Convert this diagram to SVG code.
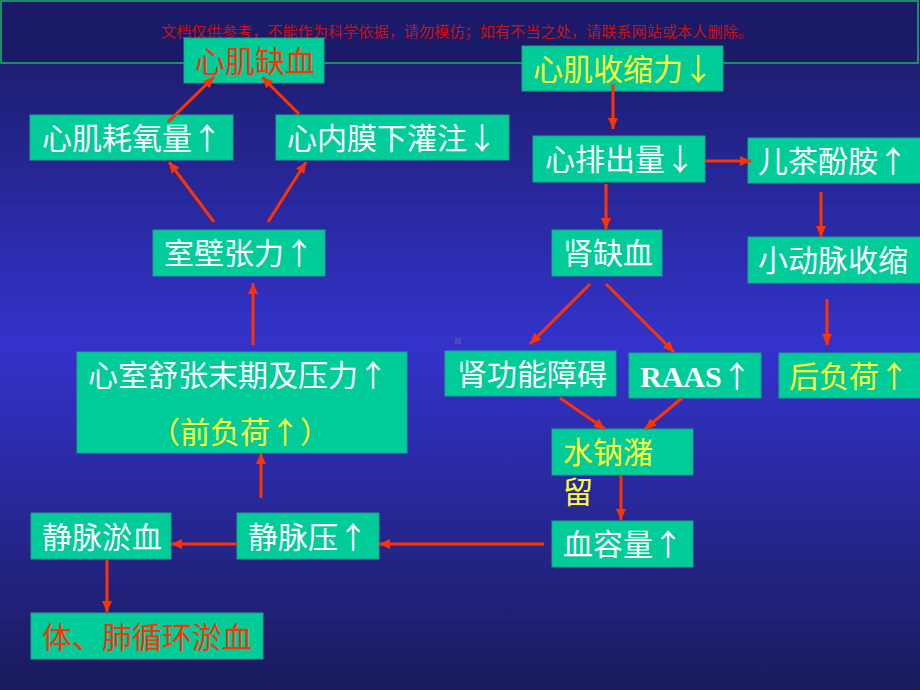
<svg xmlns="http://www.w3.org/2000/svg" width="920" height="690" viewBox="0 0 920 690">
<defs>
<linearGradient id="bg" x1="0" y1="0" x2="0" y2="1">
<stop offset="0" stop-color="#19195e"/>
<stop offset="0.5" stop-color="#3333cc"/>
<stop offset="1" stop-color="#1a1a5c"/>
</linearGradient>
<marker id="ah" markerUnits="userSpaceOnUse" markerWidth="12" markerHeight="10" refX="11" refY="5" orient="auto">
<path d="M0,0 L11,5 L0,10 Z" fill="#ff3300"/>
</marker>
<style>
.box{fill:#00cc99;stroke:#23a08c;stroke-width:1}
.t{font-family:"Noto Sans CJK SC","Noto Sans",sans-serif;font-size:30px;fill:#ffffff}
.r{fill:#ff3300}
.y{fill:#ffff33}
.c{stroke:#ff3300;stroke-width:3;fill:none;marker-end:url(#ah)}
</style>
</defs>
<rect x="0" y="0" width="920" height="690" fill="url(#bg)"/>
<g id="banner">
<rect x="1" y="1" width="917" height="62" fill="#1a1a68" stroke="#1b8c6c" stroke-width="2"/>
<text x="457" y="37" text-anchor="middle" font-family="Noto Sans CJK SC, sans-serif" font-size="15" fill="#cc1111" textLength="592" lengthAdjust="spacingAndGlyphs">文档仅供参考，不能作为科学依据，请勿模仿；如有不当之处，请联系网站或本人删除。</text>
</g>
<rect x="455" y="338" width="6" height="6" fill="#4a4ab0"/>
<g id="n1"><rect class="box" x="184" y="38" width="140" height="45"/><text class="t r" x="195" y="72">心肌缺血</text></g>
<g id="n2"><rect class="box" x="30" y="115" width="203" height="45"/><text class="t" x="42" y="149">心肌耗氧量↑</text></g>
<g id="n3"><rect class="box" x="276" y="115" width="233" height="45"/><text class="t" x="287" y="149">心内膜下灌注↓</text></g>
<g id="n4"><rect class="box" x="153" y="230" width="172" height="46"/><text class="t" x="164" y="264">室壁张力↑</text></g>
<g id="n5"><rect class="box" x="77" y="352" width="330" height="101"/><text class="t" x="88" y="386">心室舒张末期及压力↑</text><text class="t y" x="150" y="443">（前负荷↑）</text></g>
<g id="n6"><rect class="box" x="31" y="513" width="140" height="46"/><text class="t" x="42" y="548">静脉淤血</text></g>
<g id="n7"><rect class="box" x="237" y="513" width="142" height="46"/><text class="t" x="248" y="548">静脉压↑</text></g>
<g id="n8"><rect class="box" x="31" y="613" width="232" height="46"/><text class="t r" x="42" y="648">体、肺循环淤血</text></g>
<g id="n9"><rect class="box" x="522" y="46" width="201" height="45"/><text class="t y" x="533" y="80">心肌收缩力↓</text></g>
<g id="n10"><rect class="box" x="533" y="136" width="172" height="46"/><text class="t" x="545" y="170">心排出量↓</text></g>
<g id="n11"><rect class="box" x="748" y="138" width="173" height="45"/><text class="t" x="758" y="172">儿茶酚胺↑</text></g>
<g id="n12"><rect class="box" x="552" y="230" width="110" height="46"/><text class="t" x="563" y="264">肾缺血</text></g>
<g id="n13"><rect class="box" x="748" y="237" width="173" height="46"/><text class="t" x="758" y="271">小动脉收缩</text></g>
<g id="n14"><rect class="box" x="445" y="351" width="171" height="45"/><text class="t" x="457" y="385">肾功能障碍</text></g>
<g id="n15"><rect class="box" x="629" y="353" width="132" height="45"/><text x="640" y="387" font-family="Liberation Serif, serif" font-weight="bold" font-size="30" fill="#ffffff">RAAS<tspan font-family="Noto Sans CJK SC, sans-serif" font-weight="normal">↑</tspan></text></g>
<g id="n16"><rect class="box" x="779" y="353" width="142" height="45"/><text class="t y" x="789" y="387">后负荷↑</text></g>
<g id="n17"><rect class="box" x="552" y="429" width="141" height="46"/><text class="t y" x="563" y="463">水钠潴</text><text class="t y" x="563" y="503">留</text></g>
<g id="n18"><rect class="box" x="552" y="521" width="141" height="46"/><text class="t" x="563" y="555">血容量↑</text></g>
<g id="connectors">
<line class="c" x1="168" y1="122" x2="214" y2="77"/>
<line class="c" x1="299" y1="114" x2="262" y2="77"/>
<line class="c" x1="214" y1="222" x2="169" y2="162"/>
<line class="c" x1="268" y1="222" x2="306" y2="162"/>
<line class="c" x1="253" y1="345" x2="253" y2="283"/>
<line class="c" x1="261" y1="498" x2="261" y2="453"/>
<line class="c" x1="544" y1="544" x2="379" y2="544"/>
<line class="c" x1="237" y1="544" x2="171" y2="544"/>
<line class="c" x1="107" y1="559" x2="107" y2="612"/>
<line class="c" x1="613" y1="84" x2="613" y2="129"/>
<line class="c" x1="705" y1="161" x2="751" y2="161"/>
<line class="c" x1="606" y1="184" x2="606" y2="229"/>
<line class="c" x1="821" y1="192" x2="821" y2="237"/>
<line class="c" x1="827" y1="299" x2="827" y2="345"/>
<line class="c" x1="590" y1="284" x2="530" y2="344"/>
<line class="c" x1="606" y1="284" x2="674" y2="352"/>
<line class="c" x1="560" y1="398" x2="605" y2="429"/>
<line class="c" x1="682" y1="398" x2="645" y2="429"/>
<line class="c" x1="621" y1="475" x2="621" y2="520"/>
</g>
</svg>
